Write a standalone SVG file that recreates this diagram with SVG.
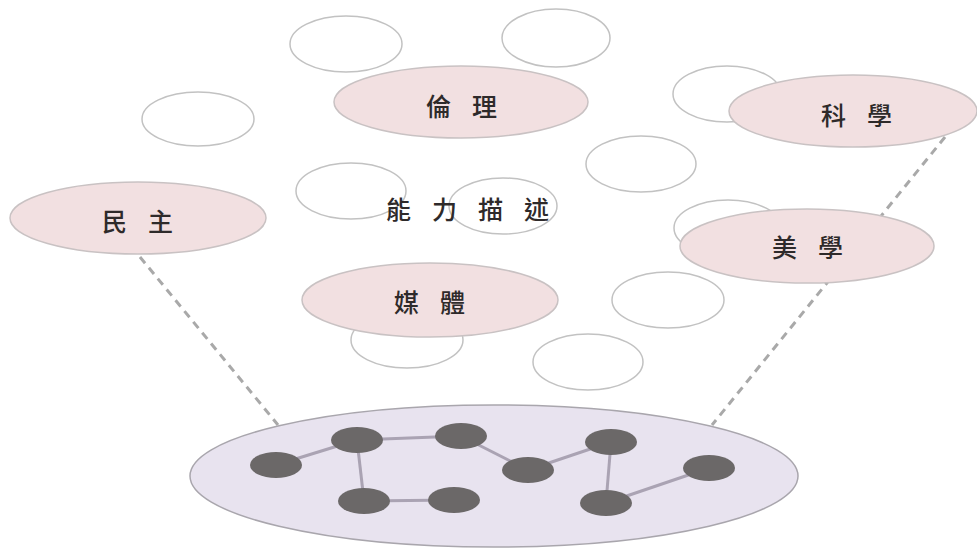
<svg xmlns="http://www.w3.org/2000/svg" width="977" height="553" viewBox="0 0 977 553">
<style>
.blank{fill:#ffffff;stroke:#c2c2c2;stroke-width:1.5}
.topic{fill:#f2e0e1;stroke:#c9c2c3;stroke-width:1.5}
.lbl{font-family:"Noto Sans CJK TC","Noto Sans CJK SC",sans-serif;font-size:25px;font-weight:500;fill:#2e2a2a;text-anchor:middle;dominant-baseline:central;letter-spacing:21px}
.dash{stroke:#a9a9a9;stroke-width:3;stroke-dasharray:8 6;fill:none}
.link{stroke:#aaa3b3;stroke-width:3;fill:none}
.dot{fill:#6b6868}
</style>
<rect width="977" height="553" fill="#ffffff"/>
<g id="connectors">
<line class="dash" x1="140" y1="257" x2="278" y2="425"/>
<line class="dash" x1="945" y1="137" x2="712" y2="425"/>
</g>
<g id="blanks">
<ellipse class="blank" cx="346" cy="44" rx="56" ry="28"/>
<ellipse class="blank" cx="556" cy="38" rx="54" ry="29"/>
<ellipse class="blank" cx="198" cy="119" rx="56" ry="27"/>
<ellipse class="blank" cx="727" cy="94" rx="54" ry="28"/>
<ellipse class="blank" cx="641" cy="164" rx="55" ry="28"/>
<ellipse class="blank" cx="351" cy="191" rx="55" ry="28"/>
<ellipse class="blank" cx="503" cy="206" rx="54" ry="28"/>
<ellipse class="blank" cx="728" cy="228" rx="54" ry="28"/>
<ellipse class="blank" cx="407" cy="340" rx="56" ry="28"/>
<ellipse class="blank" cx="668" cy="300" rx="56" ry="28"/>
<ellipse class="blank" cx="588" cy="362" rx="55" ry="28"/>
</g>
<g id="node-ethics">
<ellipse class="topic" cx="461" cy="102" rx="127" ry="36"/>
<text class="lbl" x="472" y="105">倫理</text>
</g>
<g id="node-science">
<ellipse class="topic" cx="853" cy="111" rx="124" ry="36"/>
<text class="lbl" x="867" y="114">科學</text>
</g>
<g id="node-democracy">
<ellipse class="topic" cx="138" cy="218" rx="128" ry="36"/>
<text class="lbl" x="148" y="220">民主</text>
</g>
<g id="node-aesthetics">
<ellipse class="topic" cx="807" cy="246" rx="127" ry="37"/>
<text class="lbl" x="818" y="246">美學</text>
</g>
<g id="node-media">
<ellipse class="topic" cx="430" cy="300" rx="128" ry="37"/>
<text class="lbl" x="440" y="301">媒體</text>
</g>
<g id="node-title">
<text class="lbl" x="478" y="208">能力描述</text>
</g>
<g id="node-network">
<ellipse cx="494" cy="476" rx="304" ry="71" fill="#e8e3ef" stroke="#a9a6ad" stroke-width="1.5"/>
<g id="network-links">
<line class="link" x1="276" y1="465" x2="357" y2="440"/>
<line class="link" x1="357" y1="440" x2="461" y2="436"/>
<line class="link" x1="357" y1="440" x2="364" y2="501"/>
<line class="link" x1="364" y1="501" x2="454" y2="500"/>
<line class="link" x1="461" y1="436" x2="528" y2="470"/>
<line class="link" x1="528" y1="470" x2="611" y2="442"/>
<line class="link" x1="611" y1="442" x2="606" y2="503"/>
<line class="link" x1="606" y1="503" x2="709" y2="468"/>
</g>
<ellipse class="dot" cx="276" cy="465" rx="26" ry="13"/>
<ellipse class="dot" cx="357" cy="440" rx="26" ry="13"/>
<ellipse class="dot" cx="461" cy="436" rx="26" ry="13"/>
<ellipse class="dot" cx="364" cy="501" rx="26" ry="13"/>
<ellipse class="dot" cx="454" cy="500" rx="26" ry="13"/>
<ellipse class="dot" cx="528" cy="470" rx="26" ry="13"/>
<ellipse class="dot" cx="611" cy="442" rx="26" ry="13"/>
<ellipse class="dot" cx="606" cy="503" rx="26" ry="13"/>
<ellipse class="dot" cx="709" cy="468" rx="26" ry="13"/>
</g>
</svg>
